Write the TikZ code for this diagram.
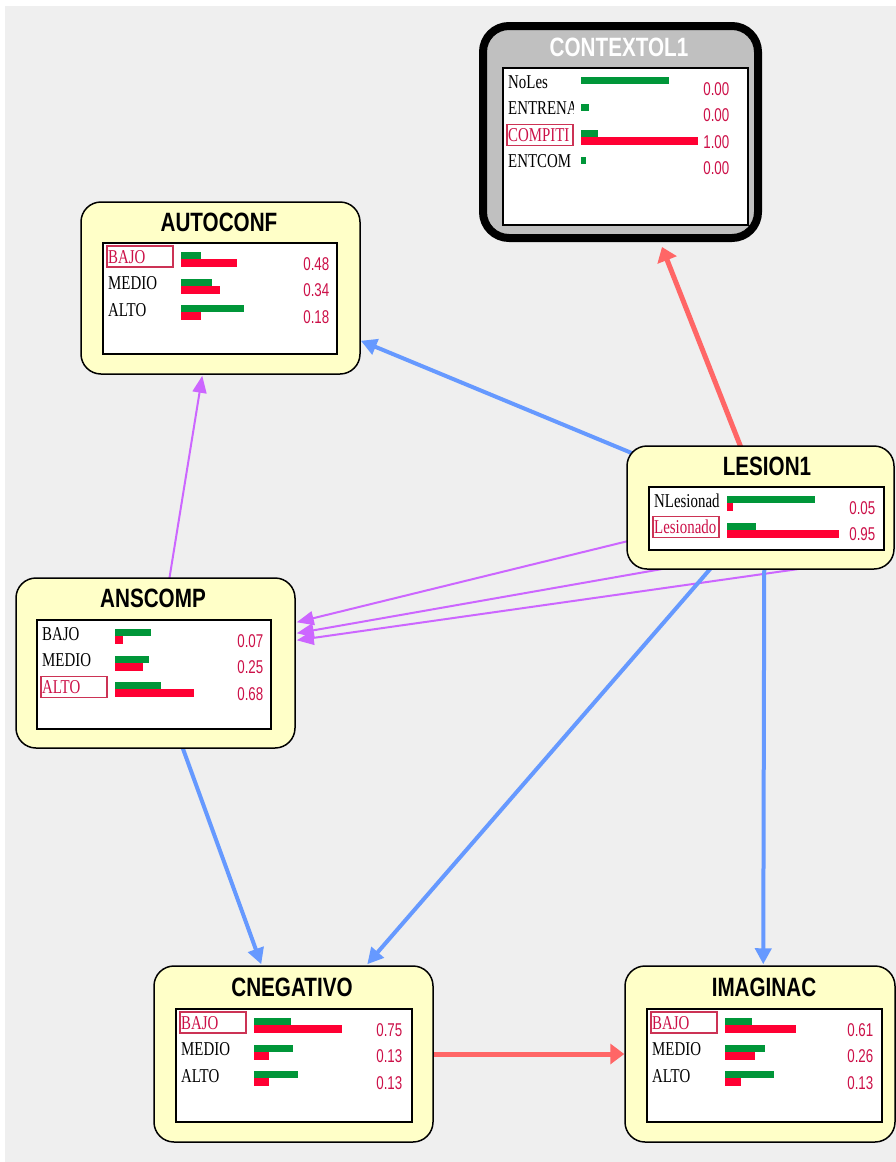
\documentclass[tikz,border=0pt]{standalone}
\usepackage{fontspec}
\setmainfont{Liberation Serif}
\newfontfamily\labfont{Liberation Serif}[FakeStretch=0.76]
\newfontfamily\numfont{Liberation Sans}[FakeStretch=0.72]
\newfontfamily\ttlfont{Liberation Sans}[FakeStretch=0.78]
\usetikzlibrary{arrows.meta,calc}
\pgfdeclarelayer{bg}
\pgfdeclarelayer{edges}
\pgfsetlayers{bg,edges,main}
\definecolor{bggray}{HTML}{EFEFEF}
\definecolor{boxyellow}{HTML}{FFFFC8}
\definecolor{ctxgray}{HTML}{C0C0C0}
\definecolor{gbarc}{HTML}{009639}
\definecolor{rbarc}{HTML}{FF0033}
\definecolor{numred}{HTML}{CC1048}
\definecolor{hlred}{HTML}{CC3355}
\definecolor{edgered}{HTML}{FF6666}
\definecolor{edgeblue}{HTML}{6699FF}
\definecolor{edgepurp}{HTML}{CC66FF}
\tikzset{
  vbox/.style={draw=black, line width=1.5pt, fill=boxyellow, rounded corners=20pt, inner sep=0pt},
  inbox/.style={draw=black, line width=1.5pt, fill=white, inner sep=0pt, anchor=north west},
  ttl/.style={font=\ttlfont\bfseries\fontsize{26.5}{30}\selectfont, inner sep=0pt, anchor=base},
  lab/.style={font=\labfont\fontsize{19.6}{22}\selectfont, inner sep=0pt, anchor=base west},
  num/.style={font=\numfont\fontsize{18.5}{20}\selectfont, text=numred, inner sep=0pt, anchor=base east},
  gbar/.style={fill=gbarc},
  rbar/.style={fill=rbarc},
  hlbox/.style={draw=hlred, line width=1.2pt},
  redE/.style={draw=edgered, line width=5pt, -{Triangle[length=14pt,width=20pt]}},
  blueE/.style={draw=edgeblue, line width=4pt, -{Triangle[length=16pt,width=16pt]}},
  purpE/.style={draw=edgepurp, line width=2pt, -{Triangle[length=17pt,width=14pt]}},
}
% #1 box name, #2 ix, #3 iy, #4 row, #5 label, #6 green, #7 red, #8 value
\newcommand\prow[8]{%
  \pgfmathsetmacro\lb{#3+21+26.6*#4}%
  \pgfmathsetmacro\nb{#3+28+26.6*#4}%
  \begin{scope}
    \clip (#2+3,\lb-22) rectangle (#2+71,\lb+7);
    \node[lab] (#1-l#4) at (#2+6,\lb) {#5};
  \end{scope}
  \fill[gbar] (#2+79,\lb-11) rectangle ++(#6,7);
  \ifdim #7pt>0pt \fill[rbar] (#2+79,\lb-4) rectangle ++(#7,8);\fi
  \node[num] (#1-v#4) at (#2+227.5,\nb) {#8};
}
\newcommand\hlrow[3]{%
  \pgfmathsetmacro\lb{#2+21+26.6*#3}%
  \draw[hlbox] (#1+5,\lb-17) rectangle (#1+71,\lb+4);
}
\begin{document}
\begin{tikzpicture}[x=1pt,y=-1pt]
\useasboundingbox (0,0) rectangle (896,1162);
\begin{pgfonlayer}{bg}
  \fill[white] (0,0) rectangle (896,1162);
  \fill[bggray] (5,6) rectangle (896,1162);
\end{pgfonlayer}

% ---- CONTEXTOL1 ----
\node[draw=black, line width=8pt, fill=ctxgray, rounded corners=26pt, inner sep=0pt,
      minimum width=275pt, minimum height=212pt] (ctx) at (620.5,132) {};
\node[ttl, text=white, font=\ttlfont\bfseries\fontsize{26.5}{30}\selectfont] (ctx-t) at (619,56) {CONTEXTOL1};
\node[inbox, minimum width=245pt, minimum height=157pt] (ctx-i) at (502,67) {};
\hlrow{502}{67}{2}
\prow{ctx}{502}{67}{0}{NoLes}{88}{0}{0.00}
\prow{ctx}{502}{67}{1}{ENTRENA}{8}{0}{0.00}
\prow{ctx}{502}{67}{2}{\color{numred}COMPITI}{17}{117}{1.00}
\prow{ctx}{502}{67}{3}{ENTCOM}{5}{0}{0.00}

% ---- AUTOCONF ----
\node[vbox, minimum width=279pt, minimum height=172pt] (auto) at (220.5,288) {};
\node[ttl] (auto-t) at (219,231) {AUTOCONF};
\node[inbox, minimum width=234pt, minimum height=111pt] (auto-i) at (102,242) {};
\hlrow{102}{242}{0}
\prow{auto}{102}{242}{0}{\color{numred}BAJO}{20}{56}{0.48}
\prow{auto}{102}{242}{1}{MEDIO}{31}{39}{0.34}
\prow{auto}{102}{242}{2}{ALTO}{63}{20}{0.18}

% ---- LESION1 ----
\node[vbox, minimum width=267pt, minimum height=123pt] (les) at (760.5,507.5) {};
\node[ttl] (les-t) at (767,475) {LESION1};
\node[inbox, minimum width=235pt, minimum height=63pt] (les-i) at (648,486) {};
\hlrow{648}{486}{1}
\prow{les}{648}{486}{0}{NLesionad}{88}{6}{0.05}
\prow{les}{648}{486}{1}{\color{numred}Lesionado}{29}{112}{0.95}

% ---- ANSCOMP ----
\node[vbox, minimum width=279pt, minimum height=170pt] (ans) at (155.5,663) {};
\node[ttl] (ans-t) at (153,607) {ANSCOMP};
\node[inbox, minimum width=234pt, minimum height=109pt] (ans-i) at (36,619) {};
\hlrow{36}{619}{2}
\prow{ans}{36}{619}{0}{BAJO}{36}{8}{0.07}
\prow{ans}{36}{619}{1}{MEDIO}{34}{28}{0.25}
\prow{ans}{36}{619}{2}{\color{numred}ALTO}{46}{79}{0.68}

% ---- CNEGATIVO ----
\node[vbox, minimum width=279pt, minimum height=176pt] (cneg) at (293.5,1054) {};
\node[ttl] (cneg-t) at (292,996) {CNEGATIVO};
\node[inbox, minimum width=236pt, minimum height=113pt] (cneg-i) at (175,1008) {};
\hlrow{175}{1008}{0}
\prow{cneg}{175}{1008}{0}{\color{numred}BAJO}{37}{88}{0.75}
\prow{cneg}{175}{1008}{1}{MEDIO}{39}{15}{0.13}
\prow{cneg}{175}{1008}{2}{ALTO}{44}{15}{0.13}

% ---- IMAGINAC ----
\node[vbox, minimum width=270pt, minimum height=176pt] (imag) at (760,1054) {};
\node[ttl] (imag-t) at (764,996) {IMAGINAC};
\node[inbox, minimum width=235pt, minimum height=113pt] (imag-i) at (646,1008) {};
\hlrow{646}{1008}{0}
\prow{imag}{646}{1008}{0}{\color{numred}BAJO}{27}{71}{0.61}
\prow{imag}{646}{1008}{1}{MEDIO}{40}{30}{0.26}
\prow{imag}{646}{1008}{2}{ALTO}{49}{16}{0.13}

% ---- connectors ----
\begin{pgfonlayer}{edges}
  \draw[redE] ($(les.north west)+(115,3)$) -- ($(ctx.south west)+(183,5)$);
  \draw[blueE] ($(les.north west)+(6,8)$) -- ($(auto.south east)+(0,-34)$);
  \draw[purpE] ($(ans.north west)+(154,2)$) -- ($(auto.south west)+(122,1)$);
  \draw[purpE] ($(les.south west)+(3,-29)$) -- ($(ans.north east)+(1,45)$);
  \draw[purpE] ($(les.south west)+(43,-2)$) -- ($(ans.north east)+(1,56)$);
  \draw[purpE] ($(les.south west)+(181,-2)$) -- ($(ans.north east)+(1,63)$);
  \draw[blueE] ($(ans.south west)+(167,-2)$) -- ($(cneg.north west)+(108,-1)$);
  \draw[blueE] ($(les.south west)+(85,-2)$) -- ($(cneg.north west)+(214,-1)$);
  \draw[blueE] ($(les.south west)+(138,-2)$) -- ($(imag.north west)+(139,-1)$);
  \draw[redE] (cneg.east) -- (imag.west);
\end{pgfonlayer}
\end{tikzpicture}
\end{document}
